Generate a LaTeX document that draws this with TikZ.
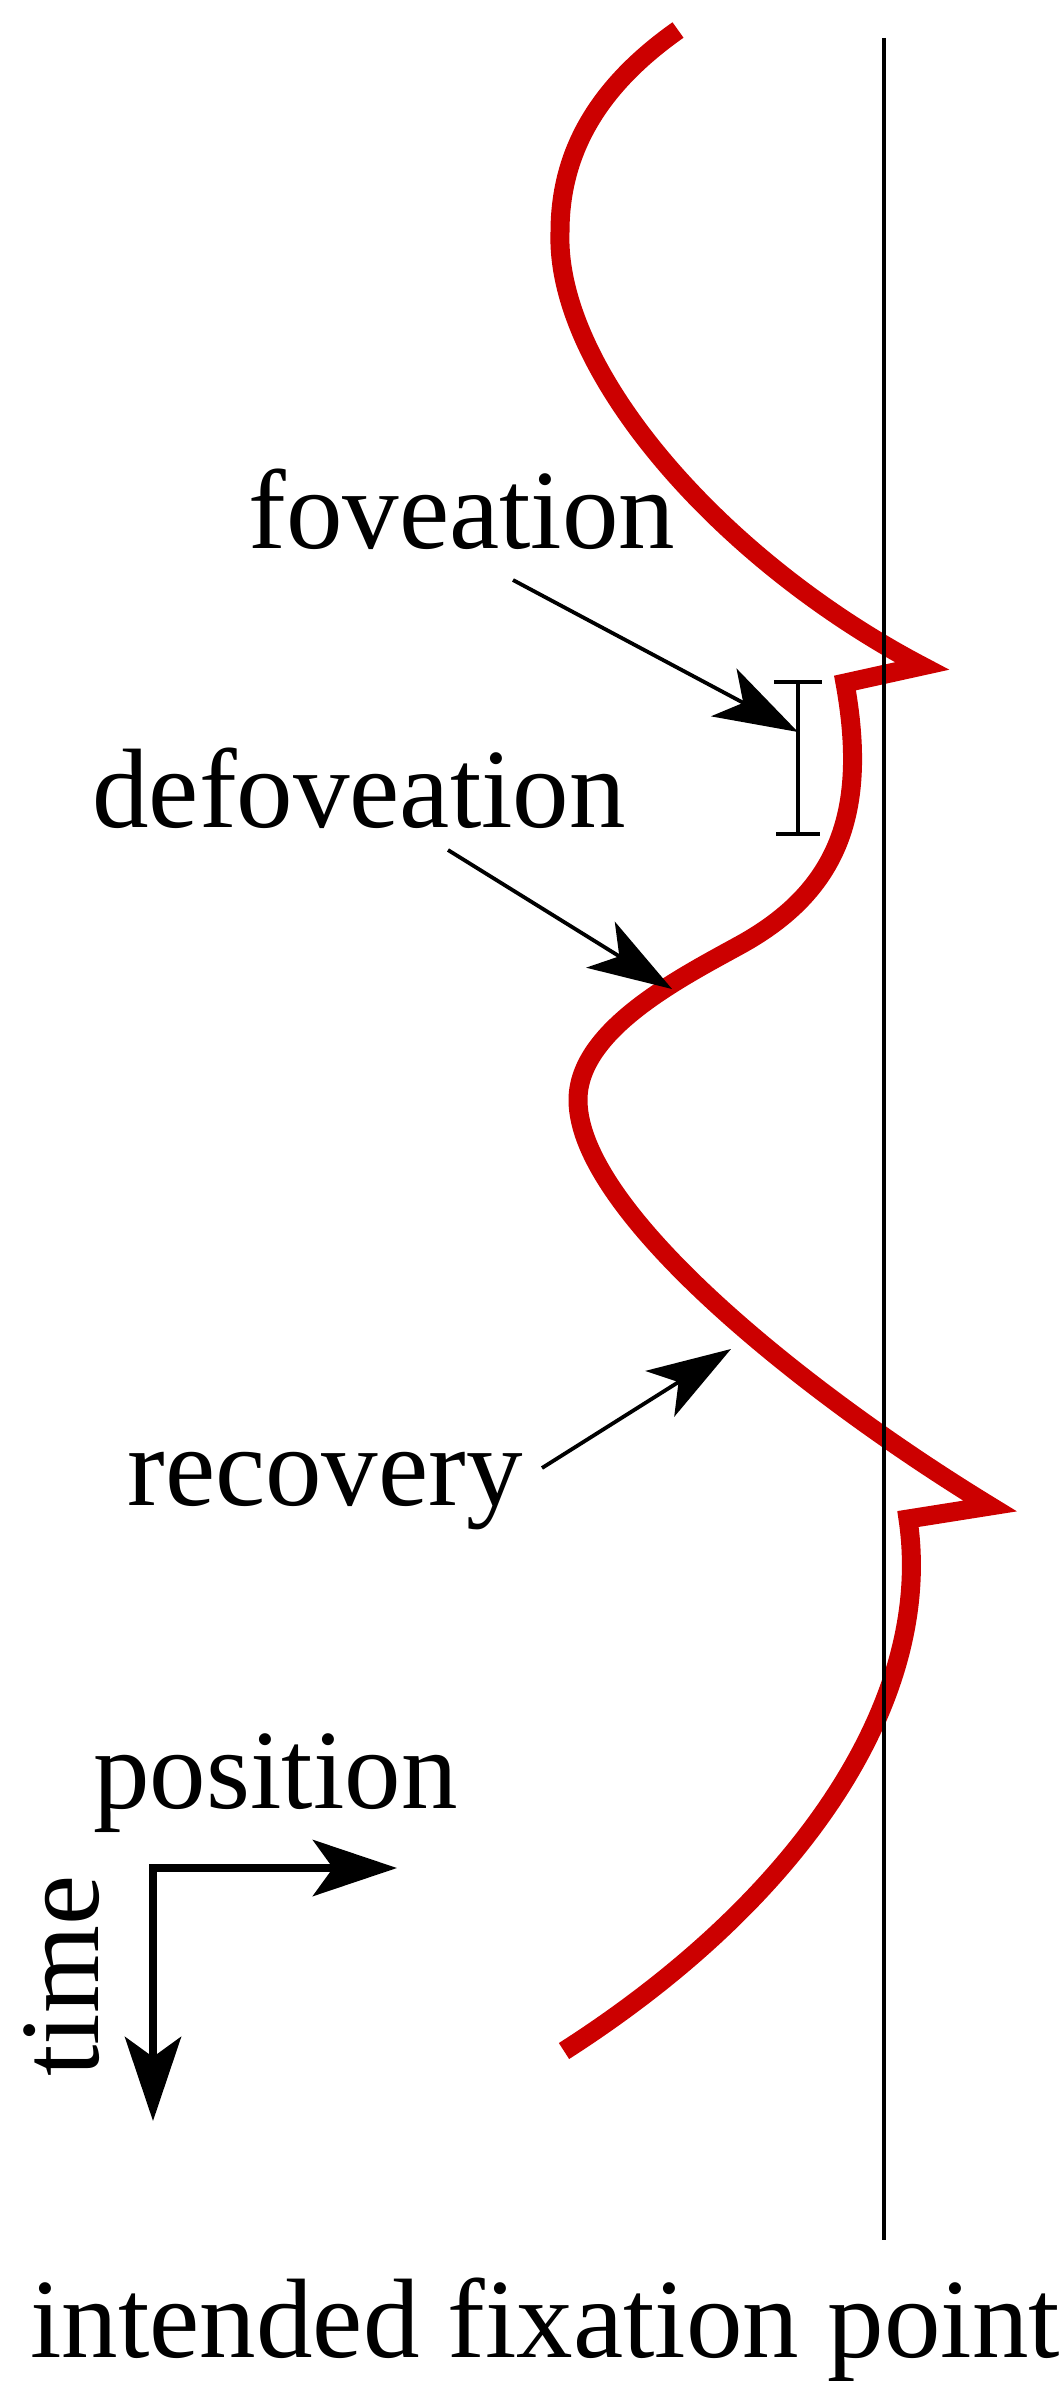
\documentclass[tikz,border=0pt]{standalone}
\usepackage{fontspec}
\setmainfont{Liberation Serif}
\usetikzlibrary{arrows.meta}
\definecolor{trace}{RGB}{204,0,0}
\tikzset{
  lbl/.style={anchor=base west, inner sep=0pt, font=\fontsize{56.5pt}{60pt}\selectfont},
  tracepath/.style={draw=trace, line width=9.5pt, line join=miter, line cap=butt},
  refline/.style={draw=black, line width=1.8pt},
  pointer/.style={draw=black, line width=1.9pt, -{Stealth[length=42pt, width=27pt, inset=11pt]}},
  axisarrow/.style={draw=black, line width=4pt, line join=miter,
    {Stealth[length=42pt, width=28pt, inset=10pt]}-{Stealth[length=42pt, width=28pt, inset=10pt]}},
  bracket/.style={draw=black, line width=1.6pt}
}
\begin{document}
\begin{tikzpicture}[x=0.5pt,y=-0.5pt]
\useasboundingbox (0,0) rectangle (1064,2381);

% red eye trace
\draw[tracepath] (678,30)
  .. controls (600,85) and (560,150) .. (560,232)
  .. controls (555,370) and (720,560) .. (922,666)
  -- (845,683)
  .. controls (868,810) and (840,890) .. (740,945)
  .. controls (680,978) and (578,1030) .. (578,1100)
  .. controls (578,1210) and (800,1390) .. (990,1506)
  -- (908,1519)
  .. controls (935,1700) and (800,1900) .. (564,2051);

% intended fixation line
\coordinate (lineTop) at (884,38);
\coordinate (lineBot) at (884,2240);
\draw[refline] (lineTop) -- (lineBot);

% bracket
\coordinate (brTop) at (798,682);
\coordinate (brBot) at (798,834);
\coordinate (brMid) at (798,732);
\coordinate (brTL) at (774,682);
\coordinate (brTR) at (822,682);
\coordinate (brBL) at (776,834);
\coordinate (brBR) at (820,834);
\draw[bracket] (brTop) -- (brBot);
\draw[bracket] (brTL) -- (brTR);
\draw[bracket] (brBL) -- (brBR);

% labels
\node[lbl] (fov) at (248,548) {foveation};
\node[lbl] (defov) at (92,827) {defoveation};
\node[lbl] (recov) at (127,1505) {recovery};
\node[lbl] (pos) at (93,1808) {position};
\node[lbl, rotate=90] (time) at (98,2077) {time};
\node[lbl] (ifp) at (30,2357) {intended fixation point};

% pointers
\coordinate (fovTail) at (513,580);
\coordinate (defTail) at (448,850);
\coordinate (defTip) at (672,989);
\coordinate (recTail) at (542,1468);
\coordinate (recTip) at (731,1349);
\draw[pointer] (fovTail) -- (brMid);
\draw[pointer] (defTail) -- (defTip);
\draw[pointer] (recTail) -- (recTip);

% axes
\coordinate (axCorner) at (153,1868);
\coordinate (axPos) at (397,1868);
\coordinate (axTime) at (153,2121);
\draw[axisarrow] (axPos) -- (axCorner) -- (axTime);
\end{tikzpicture}
\end{document}
